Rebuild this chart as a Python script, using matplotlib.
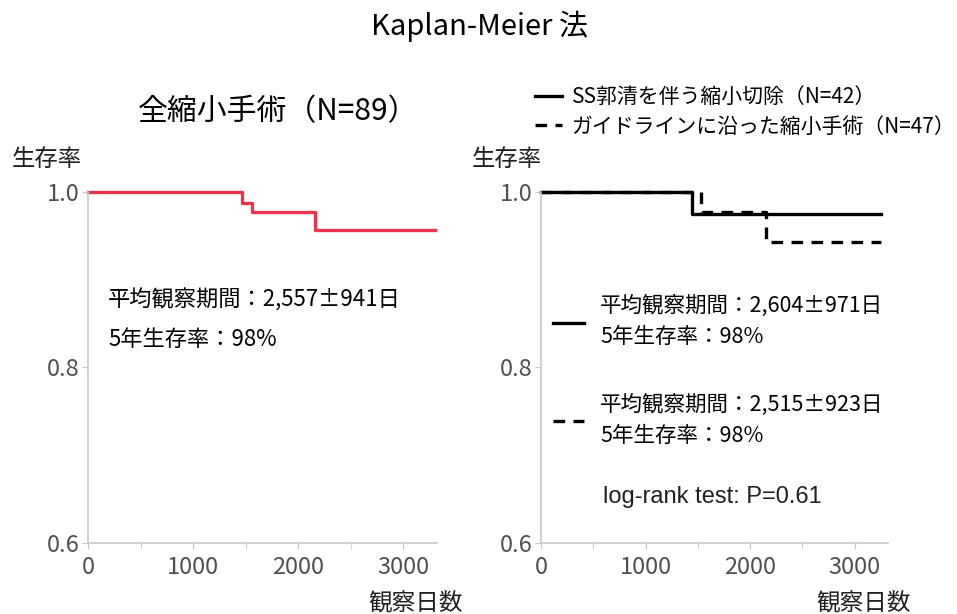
import matplotlib
matplotlib.use("Agg")
import matplotlib.pyplot as plt
from matplotlib.ticker import MultipleLocator, FormatStrFormatter
from matplotlib.lines import Line2D

plt.rcParams['font.family'] = ['Noto Sans CJK JP', 'DejaVu Sans']

# ---- data ----
all_time = [0, 1467, 1562, 2162, 3305]
all_surv = [1.0, 0.988, 0.977, 0.957, 0.957]

ss_time = [0, 1448, 3250]
ss_surv = [1.0, 0.975, 0.975]

gl_time = [0, 1533, 2152, 3250]
gl_surv = [1.0, 0.977, 0.943, 0.943]

x_ticks = [0, 1000, 2000, 3000]
y_ticks = [0.6, 0.8, 1.0]

title = "Kaplan-Meier 法"
left_title = "全縮小手術（N=89）"
ss_label = "SS郭清を伴う縮小切除（N=42）"
gl_label = "ガイドラインに沿った縮小手術（N=47）"
all_stats = ["平均観察期間：2,557±941日", "5年生存率：98%"]
ss_stats = "平均観察期間：2,604±971日\n5年生存率：98%"
gl_stats = "平均観察期間：2,515±923日\n5年生存率：98%"
logrank = "log-rank test: P=0.61"
ylab = "生存率"
xlab = "観察日数"

red = '#E8344F'
axis_gray = '#C8C8C8'
tick_text = '#505050'

fig = plt.figure(figsize=(9.57, 6.14), dpi=100)
W, H = 957, 614

def fy(y):
    return 1 - y / H

def make_ax(x0, x1):
    ax = fig.add_axes([x0 / W, (H - 543) / H, (x1 - x0) / W, (543 - 192) / H])
    ax.set_xlim(0, 3320)
    ax.set_ylim(0.6, 1.0)
    for s in ['top', 'right']:
        ax.spines[s].set_visible(False)
    for s in ['left', 'bottom']:
        ax.spines[s].set_color(axis_gray)
        ax.spines[s].set_linewidth(1.2)
    ax.set_xticks(x_ticks)
    ax.xaxis.set_minor_locator(MultipleLocator(500))
    ax.set_yticks(y_ticks)
    ax.yaxis.set_major_formatter(FormatStrFormatter('%.1f'))
    ax.tick_params(axis='both', which='both', color=axis_gray, length=4,
                   labelsize=17, labelcolor=tick_text)
    ax.tick_params(axis='x', pad=5)
    ax.tick_params(axis='y', pad=2)
    return ax

axL = make_ax(88, 437)
axR = make_ax(541, 888)

def ay(y):
    return (543 - y) / 351

axL.step(all_time, all_surv, where='post', color=red, lw=2.4, clip_on=False)
l_ss, = axR.step(ss_time, ss_surv, where='post', color='black', lw=2.4, clip_on=False)
l_gl, = axR.step(gl_time, gl_surv, where='post', color='black', lw=2.4,
                 dashes=(3.5, 2.5), clip_on=False)

fig.text(480 / W, fy(26), title, ha='center', va='center', fontsize=21)
fig.text(278 / W, fy(112), left_title, ha='center', va='center', fontsize=21.5)

for x in (12, 472):
    fig.text(x / W, fy(160), ylab, ha='left', va='center', fontsize=16.8, color='#202020')
for x in (416, 864):
    fig.text(x / W, fy(604), xlab, ha='center', va='center', fontsize=17, color='#202020')

axL.text(20 / 349, ay(300), all_stats[0], transform=axL.transAxes,
         ha='left', va='center', fontsize=16)
axL.text(20 / 349, ay(340), all_stats[1], transform=axL.transAxes,
         ha='left', va='center', fontsize=16)

# top legend
fig.legend([l_ss, l_gl], [ss_label, gl_label], loc='center left',
           bbox_to_anchor=(535 / W, fy(112)), frameon=False, fontsize=15,
           handlelength=1.3, handletextpad=0.45, labelspacing=0.35, borderpad=0,
           borderaxespad=0)

# in-plot stats legend
leg = axR.legend([Line2D([], [], color='black', lw=2.4),
                  Line2D([], [], color='black', lw=2.4, dashes=(3.5, 2.5))],
                 [ss_stats, gl_stats], loc='center left',
                 bbox_to_anchor=(12 / 347, ay(371)), frameon=False, fontsize=15.5,
                 handlelength=1.45, handletextpad=0.75, labelspacing=2.15, borderpad=0,
                 borderaxespad=0)
for t in leg.get_texts():
    t.set_linespacing(1.5)

axR.text(62 / 347, ay(497), logrank, transform=axR.transAxes, ha='left', va='center',
         fontsize=17, family=['Liberation Sans', 'DejaVu Sans'], color='#202020')

fig.savefig('out.png', dpi=100)
